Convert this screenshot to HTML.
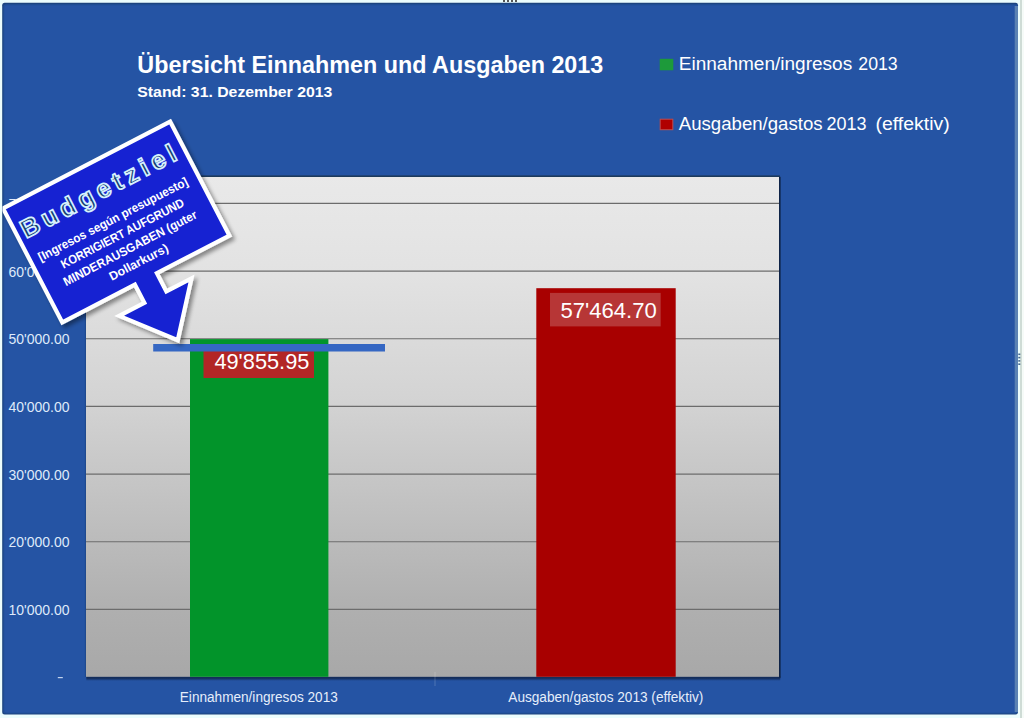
<!DOCTYPE html>
<html><head><meta charset="utf-8">
<style>
html,body{margin:0;padding:0;background:#ecfdfd;}
body{width:1024px;height:718px;overflow:hidden;font-family:"Liberation Sans",sans-serif;}
svg{display:block;font-family:"Liberation Sans",sans-serif;}
</style></head><body>
<svg width="1024" height="718" viewBox="0 0 1024 718">
<defs>
  <linearGradient id="plotg" x1="0" y1="0" x2="0" y2="1">
    <stop offset="0" stop-color="#e9e9e9"/>
    <stop offset="0.2" stop-color="#e2e2e2"/>
    <stop offset="0.45" stop-color="#d3d3d3"/>
    <stop offset="0.87" stop-color="#afafaf"/>
    <stop offset="1" stop-color="#a8a8a8"/>
  </linearGradient>
  <filter id="sh" x="-20%" y="-20%" width="150%" height="150%">
    <feGaussianBlur in="SourceAlpha" stdDeviation="2.2"/>
    <feOffset dx="3" dy="3"/>
    <feComponentTransfer><feFuncA type="linear" slope="0.42"/></feComponentTransfer>
    <feMerge><feMergeNode/><feMergeNode in="SourceGraphic"/></feMerge>
  </filter>
  <clipPath id="chartclip"><rect x="2.5" y="3" width="1015.5" height="711.5" rx="4"/></clipPath>
  <linearGradient id="botsh" x1="0" y1="0" x2="0" y2="1">
    <stop offset="0" stop-color="#122852"/>
    <stop offset="0.5" stop-color="#163263"/>
    <stop offset="1" stop-color="#2554a4"/>
  </linearGradient>
  <linearGradient id="topsh" x1="0" y1="0" x2="0" y2="1">
    <stop offset="0" stop-color="#2554a4"/>
    <stop offset="0.45" stop-color="#1f4170"/>
    <stop offset="1" stop-color="#1b3650"/>
  </linearGradient>
</defs>

<!-- page background -->
<rect x="0" y="0" width="1024" height="718" fill="#ecfdfd"/>
<rect x="1022" y="0" width="2" height="718" fill="#f6fbf8"/>
<rect x="1020" y="0" width="2" height="718" fill="#cfdcd6"/>
<!-- chart frame -->
<rect x="2.2" y="2.8" width="1015.8" height="711.7" rx="2.5" fill="#1c447f"/>
<rect x="3.4" y="4.2" width="1014.6" height="709.3" rx="2.5" fill="#21509b"/>
<rect x="4.4" y="5.4" width="1013.6" height="707.2" rx="2.5" fill="#2554a4"/>
<rect x="1014.7" y="6" width="3.3" height="706" fill="#5a82b4"/>
<!-- handles -->
<g fill="#555">
  <rect x="503" y="0" width="2" height="2"/><rect x="507" y="0" width="2" height="2"/><rect x="511" y="0" width="2" height="2"/><rect x="515" y="0" width="2" height="2"/>
  <rect x="1018.3" y="353.5" width="2" height="1.6" fill="#46688f"/><rect x="1018.3" y="356.8" width="2" height="1.6" fill="#46688f"/><rect x="1018.3" y="360.1" width="2" height="1.6" fill="#46688f"/><rect x="1018.3" y="363.4" width="2" height="1.6" fill="#46688f"/>
</g>

<!-- title -->
<text x="137.3" y="72.8" font-size="23" font-weight="bold" fill="#ffffff" textLength="466" lengthAdjust="spacingAndGlyphs">Übersicht Einnahmen und Ausgaben 2013</text>
<text x="137.3" y="97" font-size="15" font-weight="bold" fill="#ffffff" textLength="195" lengthAdjust="spacingAndGlyphs">Stand: 31. Dezember 2013</text>

<!-- legend -->
<rect x="659.7" y="58.8" width="13.6" height="11.5" fill="#1d9a3a"/>
<text x="678.8" y="70.3" font-size="17.5" fill="#ffffff" textLength="173.4" lengthAdjust="spacingAndGlyphs">Einnahmen/ingresos</text>
<text x="858.3" y="70.3" font-size="17.5" fill="#ffffff" textLength="39.4" lengthAdjust="spacingAndGlyphs">2013</text>
<rect x="660.2" y="119.2" width="12.6" height="10.5" fill="#b00000" stroke="#c24a4a" stroke-width="1"/>
<text x="678.8" y="130.2" font-size="17.5" fill="#ffffff" textLength="143.8" lengthAdjust="spacingAndGlyphs">Ausgaben/gastos</text>
<text x="826.5" y="130.2" font-size="17.5" fill="#ffffff" textLength="40" lengthAdjust="spacingAndGlyphs">2013</text>
<text x="875.5" y="130.2" font-size="17.5" fill="#ffffff" textLength="74.2" lengthAdjust="spacingAndGlyphs">(effektiv)</text>

<!-- plot area -->
<rect x="86.3" y="676.3" width="694" height="4.6" fill="url(#botsh)"/>
<rect x="779" y="176.8" width="1.6" height="501" fill="#0e2347"/>
<rect x="86" y="177" width="693" height="499.8" fill="url(#plotg)"/>
<rect x="84.8" y="177" width="1.2" height="500" fill="#1f4a8f"/>
<g stroke="#6c6c6c" stroke-width="1.15">
  <line x1="86" x2="779" y1="203.4" y2="203.4"/>
  <line x1="86" x2="779" y1="271.1" y2="271.1"/>
  <line x1="86" x2="779" y1="338.7" y2="338.7"/>
  <line x1="86" x2="779" y1="406.4" y2="406.4"/>
  <line x1="86" x2="779" y1="474.1" y2="474.1"/>
  <line x1="86" x2="779" y1="541.7" y2="541.7"/>
  <line x1="86" x2="779" y1="609.4" y2="609.4"/>
</g>
<rect x="86" y="174.6" width="694" height="2.4" fill="url(#topsh)"/>
<line x1="435" x2="435" y1="672" y2="686" stroke="#ffffff" stroke-opacity="0.13" stroke-width="1.5"/>

<!-- y axis labels -->
<g font-size="14" fill="#dfeafa" text-anchor="end">
  <text x="69.5" y="209.0">70'000.00</text>
  <text x="69.5" y="276.7">60'000.00</text>
  <text x="69.5" y="344.3">50'000.00</text>
  <text x="69.5" y="412.0">40'000.00</text>
  <text x="69.5" y="479.7">30'000.00</text>
  <text x="69.5" y="547.3">20'000.00</text>
  <text x="69.5" y="615.0">10'000.00</text>
</g>
<rect x="57.8" y="677" width="5" height="1.2" fill="#dfeafa" fill-opacity="0.85"/>

<!-- bars -->
<rect x="190" y="339.1" width="138.4" height="337.7" fill="#02942a"/>
<rect x="536.3" y="288.2" width="139.4" height="388.6" fill="#a80000"/>

<!-- data labels -->
<rect x="550" y="292.9" width="110.7" height="33.5" fill="#b73636"/>
<text x="560.4" y="318.2" font-size="22.8" fill="#ffffff" textLength="96.3" lengthAdjust="spacingAndGlyphs">57'464.70</text>
<rect x="203.5" y="344.5" width="110.5" height="33.5" fill="#b22626"/>
<text x="214.4" y="368.8" font-size="22.8" fill="#ffffff" textLength="95" lengthAdjust="spacingAndGlyphs">49'855.95</text>

<!-- budget line -->
<rect x="153.2" y="344" width="231.8" height="7.5" fill="#3567c3"/>

<!-- x axis labels -->
<text x="179.8" y="702.2" font-size="14" fill="#e6eefb" textLength="158" lengthAdjust="spacingAndGlyphs">Einnahmen/ingresos 2013</text>
<text x="508.3" y="702.2" font-size="14" fill="#e6eefb" textLength="195" lengthAdjust="spacingAndGlyphs">Ausgaben/gastos 2013 (effektiv)</text>

<!-- callout -->
<g clip-path="url(#chartclip)">
 <g filter="url(#sh)">
  <g transform="translate(0.25,207.55) rotate(-27.47)">
   <path d="M2.1,2.1 H190.4 V130.5 H108.7 V151 H137 L96.3,199.6 L55.6,151 H83.9 V130.5 H2.1 Z" fill="#1524d2" stroke="#ffffff" stroke-width="4.2" stroke-linejoin="miter" stroke-miterlimit="10"/>
  </g>
 </g>
 <g transform="translate(0.25,207.55) rotate(-27.47)">
   <text x="8.4" y="39.5" font-size="25.5" font-weight="bold" fill="#153a6c" stroke="#d6f0fd" stroke-width="1.7" letter-spacing="4.8">Budgetziel</text>
   <g font-size="12.3" fill="#ffffff" text-anchor="middle" font-weight="bold">
    <text x="94.6" y="66.5" textLength="167" lengthAdjust="spacingAndGlyphs">[Ingresos según presupuesto]</text>
    <text x="96.5" y="83.5" textLength="137" lengthAdjust="spacingAndGlyphs">KORRIGIERT AUFGRUND</text>
    <text x="96.5" y="100" textLength="149" lengthAdjust="spacingAndGlyphs">MINDERAUSGABEN (guter</text>
    <text x="97.5" y="116.5" textLength="65" lengthAdjust="spacingAndGlyphs">Dollarkurs)</text>
   </g>
 </g>
</g>
</svg>
</body></html>
